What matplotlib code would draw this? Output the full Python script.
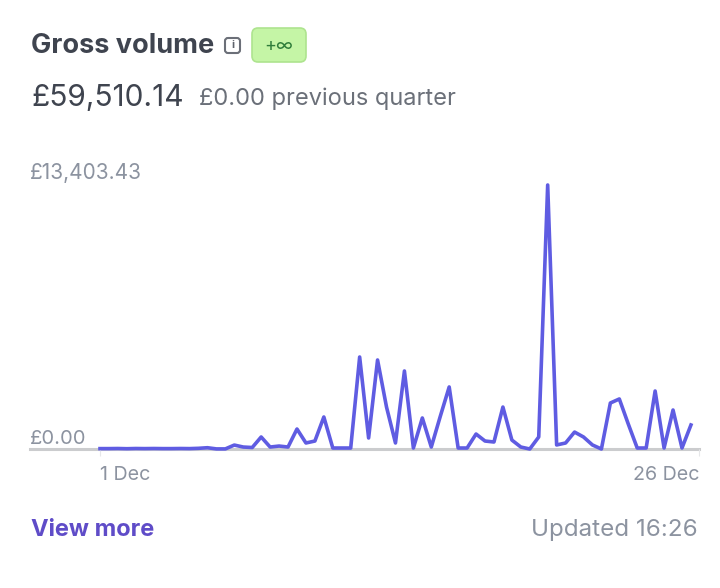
import matplotlib
matplotlib.use('Agg')
import matplotlib.pyplot as plt
from matplotlib.patches import FancyBboxPatch

plt.rcParams['font.family'] = ['Inter', 'DejaVu Sans']

W, H = 720, 588

# valori, in sterline, un campione ogni ~9 px
values = [20, 20, 25, 15, 25, 20, 25, 20, 20, 25, 20, 35, 65, 5, 5, 200, 100, 75, 610, 100,
          150, 100, 1015, 305, 405, 1625, 50, 50, 50, 4670, 560, 4520, 2130, 305, 3960, 50, 1575,
          100, 1650, 3150, 50, 50, 760, 405, 355, 2130, 455, 100, 0, 610, 13403, 205, 305, 860,
          610, 205, 0, 2335, 2540, 1270, 50, 50, 2945, 50, 1980, 50, 1220]
x_labels = ['1 Dec', '26 Dec']
y_labels = ['£13,403.43', '£0.00']

line_col = '#5f5ce2'
grey = '#8c93a0'
dark = '#3f444f'

fig = plt.figure(figsize=(W / 100, H / 100), dpi=100, facecolor='white')

# asse del grafico: x da 100 a 699 px, y da 449 (zero) a 185 (picco)
ax = fig.add_axes([100 / W, 1 - 449 / H, 599 / W, 264 / H])
ax.axhline(0, xmin=-70 / 599, xmax=1, color='#cbccce', lw=2.2, clip_on=False, zorder=1)
ax.plot(range(len(values)), values, color=line_col, lw=2.6, solid_joinstyle='round', clip_on=False, zorder=2)
ax.set_xlim(0, 66.9)
ax.set_ylim(0, max(values))
for s in ax.spines.values():
    s.set_visible(False)
ax.set_yticks([])
ax.set_xticks([0, 66.9])
ax.set_xticklabels(x_labels, fontsize=14.2, color=grey)
ax.get_xticklabels()[0].set_ha('left')
ax.get_xticklabels()[1].set_ha('right')
ax.tick_params(axis='x', length=5, width=0.8, color='#e6e7e9', pad=7)
ax.patch.set_alpha(0)

# testi e riquadri in coordinate pixel
ov = fig.add_axes([0, 0, 1, 1], zorder=5)
ov.set_xlim(0, W)
ov.set_ylim(H, 0)
ov.axis('off')

ov.text(31, 46, 'Gross volume', fontsize=19.5, fontweight='bold', color=dark, va='center')
ov.text(31, 98, '£59,510.14', fontsize=21.5, color=dark, va='center')
ov.text(199, 99, '£0.00 previous quarter', fontsize=17, color='#6b7079', va='center')
ov.text(30, 173, y_labels[0], fontsize=15, color=grey, va='center')
ov.text(30, 439, y_labels[1], fontsize=14.5, color=grey, va='center')
ov.text(31, 530, 'View more', fontsize=17, fontweight='bold', color='#5f4cc8', va='center')
ov.text(698, 530, 'Updated 16:26', fontsize=17.4, color=grey, va='center', ha='right')

# icona info
ov.add_patch(FancyBboxPatch((225, 38), 15, 15, boxstyle='round,pad=0,rounding_size=3',
                            fc='white', ec='#6b6f78', lw=1.5))
ov.text(232.5, 45.5, 'i', fontsize=8, fontweight='bold', color='#5f636c', ha='center', va='center')

# badge verde
ov.add_patch(FancyBboxPatch((252, 28), 54, 34, boxstyle='round,pad=0,rounding_size=6',
                            fc='#c5f5a6', ec='#aee48f', lw=1.2))
ov.text(279, 46, '+∞', fontsize=13, color='#2f7d3a', ha='center', va='center')

fig.savefig('out.png', dpi=100)
